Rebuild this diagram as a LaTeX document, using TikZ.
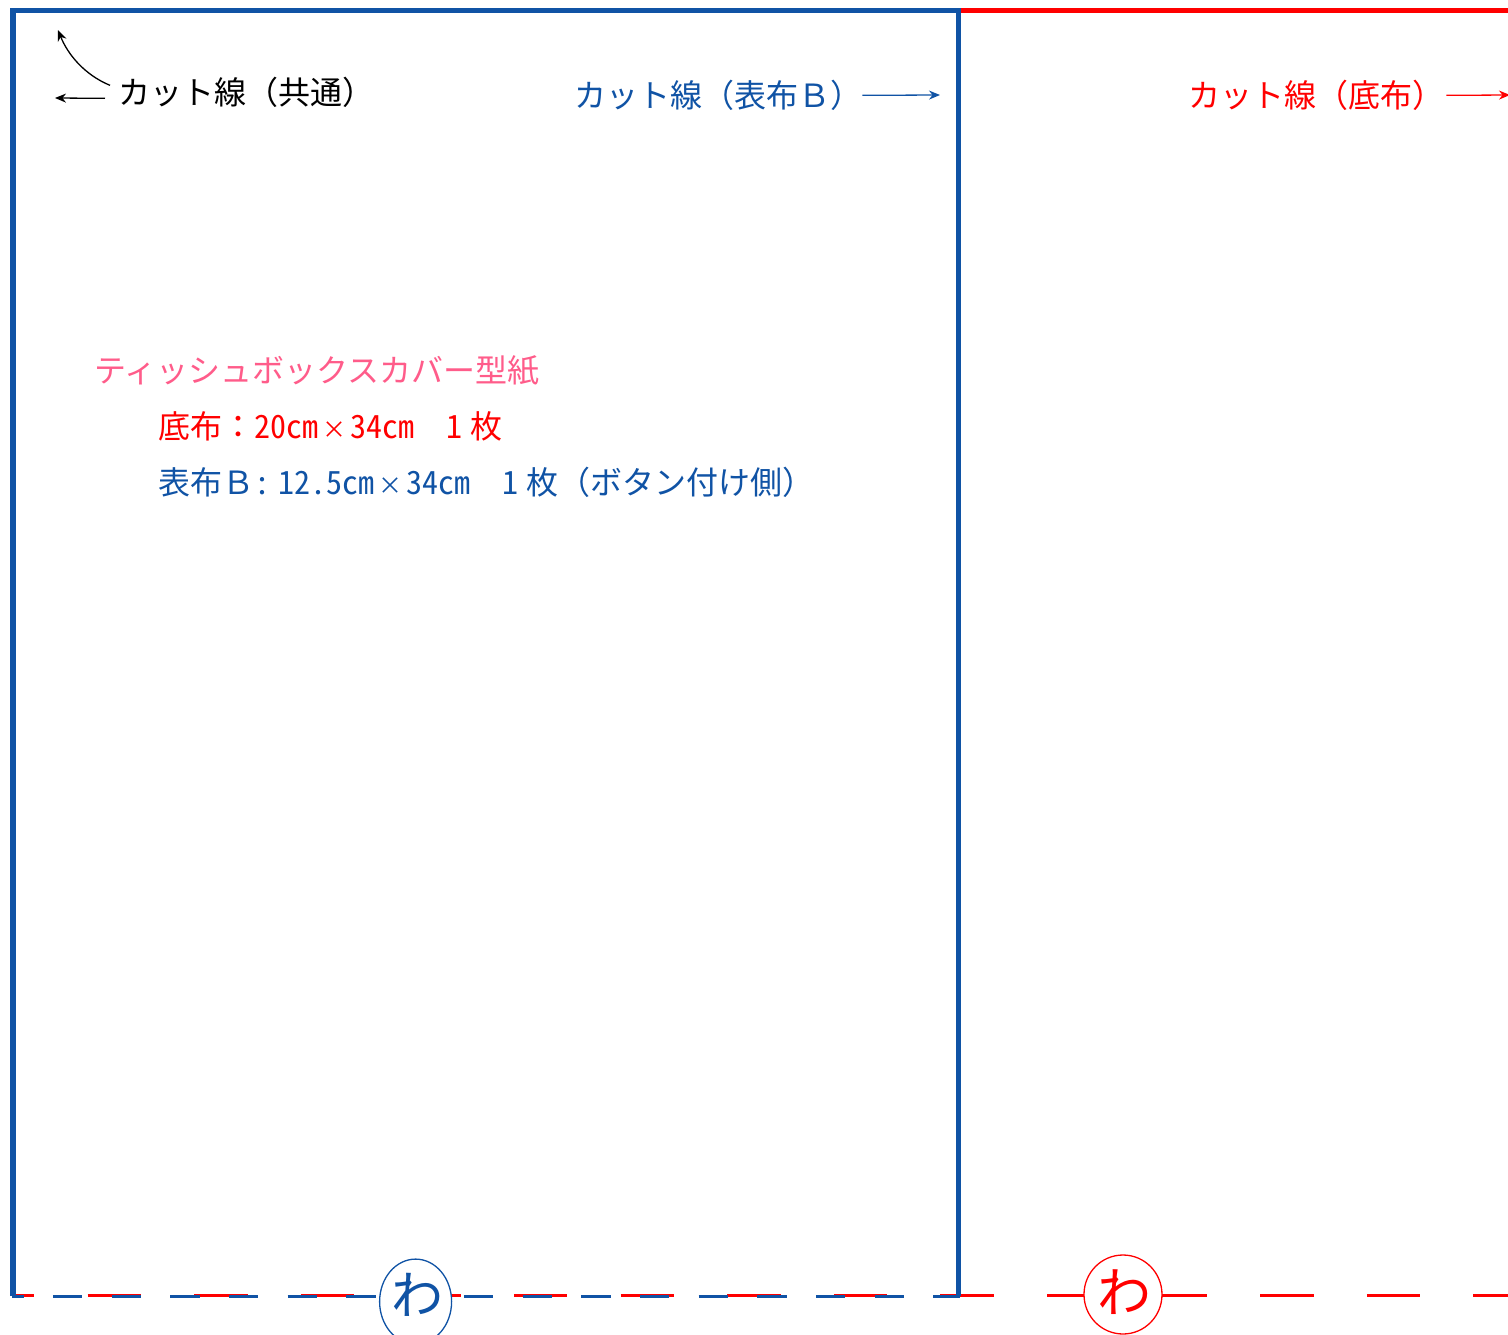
\documentclass[tikz,border=0pt]{standalone}
\usepackage{fontspec}
\usetikzlibrary{arrows.meta,shapes.geometric}
\setmainfont{Noto Sans CJK JP}
\newfontfamily\hwfont[RawFeature=+hwid]{Noto Sans CJK JP}
\definecolor{clothblue}{HTML}{1053A5}
\definecolor{clothred}{HTML}{FF0000}
\definecolor{titlepink}{HTML}{FF5C8A}
\newcommand{\hw}[1]{{\hwfont #1}}
\newcommand{\tms}{\makebox[32pt]{\scalebox{.75}{×}}}
\newcommand{\foldtext}[2]{\makebox[0pt]{\kern#1\smash{\raisebox{#2}{わ}}}}

\begin{document}
\begin{tikzpicture}[x=1pt,y=-1pt,
    label text/.style={anchor=base west,inner sep=0pt,font=\fontsize{32}{32}\selectfont},
    cut line/.style={line width=5.3pt},
    fold line/.style={line width=3pt},
    pointer/.style={line width=1.3pt,-{Stealth[length=11pt,width=9pt]}},
    fold mark/.style={ellipse,draw,line width=1.3pt,fill=white,inner sep=0pt}]
    \useasboundingbox (0,0) rectangle (1508,1335);

    \coordinate (corner0) at (13,1296);
    \coordinate (corner1) at (13,10.7);
    \coordinate (corner2) at (958.6,10.7);
    \coordinate (corner3) at (958.6,1296);
    \coordinate (topend) at (1508,10.7);
    \coordinate (redstart) at (12,1295);
    \coordinate (redend) at (1508,1295);
    \coordinate (bluestart) at (12,1296);
    \coordinate (blueend) at (960,1296);

    % cut and fold lines
    \draw[cut line,clothred] (corner2) -- (topend);
    \draw[fold line,clothred,dash pattern=on 53.3pt off 53.3pt,dash phase=31pt] (redstart) -- (redend);
    \draw[fold line,clothblue,dash pattern=on 29.35pt off 29.35pt,dash phase=17.8pt] (bluestart) -- (blueend);
    \draw[cut line,clothblue,line join=miter] (corner0) -- (corner1) -- (corner2) -- (corner3);

    % labels
    \node[label text] (lblcommon) at (118.5,104.5) {カット線（共通）};
    \node[label text,text=clothblue] (lblblue) at (574.5,107.5) {カット線（表布Ｂ）};
    \node[label text,text=clothred] (lblred) at (1188.5,107.5) {カット線（底布）};
    \node[label text,text=titlepink] (title) at (94.5,382) {ティッシュボックスカバー型紙};
    \node[label text,text=clothred] (sizered) at (158.5,438) {底布：\hw{20cm}\tms\hw{34cm}\hspace{32pt}\hw{1}\hspace{8pt}枚};
    \node[label text,text=clothblue] (sizeblue) at (158.5,494) {表布Ｂ\hw{:}\hspace{8pt}\hw{12.5cm}\tms\hw{34cm}\hspace{32pt}\hw{1}\hspace{8pt}枚（ボタン付け側）};

    % pointers
    \coordinate (tipup) at (58,30);
    \coordinate (tipleft) at (55,98);
    \coordinate (tipblue) at (940,95);
    \coordinate (tipred) at (1510,95);
    \draw[pointer] ([xshift=-8.5pt,yshift=7pt]lblcommon.west) .. controls (85,75) and (68,55) .. (tipup);
    \draw[pointer] ([xshift=-13.5pt,yshift=-6pt]lblcommon.west) -- (tipleft);
    \draw[pointer,clothblue] ([xshift=-0.5pt]lblblue.east) -- (tipblue);
    \draw[pointer,clothred] ([xshift=1.5pt]lblred.east) -- (tipred);

    % fold marks
    \node[fold mark,draw=clothblue,text=clothblue,minimum width=72pt,minimum height=85pt,font=\fontsize{52}{52}\selectfont] (foldblue) at (415.6,1301.6) {\foldtext{3pt}{-13.2pt}};
    \node[fold mark,draw=clothred,text=clothred,minimum width=78pt,minimum height=79pt,font=\fontsize{54}{54}\selectfont] (foldred) at (1123,1294.5) {\foldtext{3.4pt}{-18pt}};
\end{tikzpicture}
\end{document}
